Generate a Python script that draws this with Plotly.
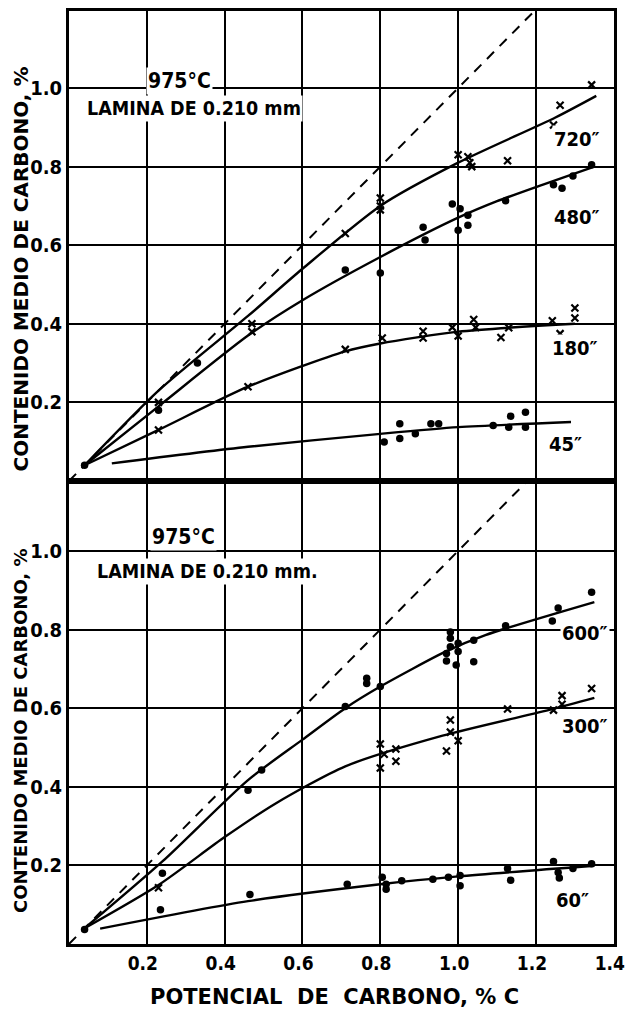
import plotly.graph_objects as go

# ---------------- upper panel: 975 °C, 0.210 mm foil ----------------
# fitted curves
c720_x = [0.04, 0.23, 0.46, 0.60, 0.80, 1.00, 1.25, 1.355]
c720_y = [0.04, 0.23, 0.42, 0.54, 0.70, 0.81, 0.925, 0.98]
c480_x = [0.04, 0.23, 0.46, 0.60, 0.80, 1.00, 1.10, 1.22, 1.35]
c480_y = [0.04, 0.19, 0.37, 0.46, 0.57, 0.67, 0.712, 0.755, 0.80]
c180_x = [0.04, 0.23, 0.46, 0.71, 0.80, 1.00, 1.30]
c180_y = [0.04, 0.13, 0.24, 0.33, 0.35, 0.38, 0.40]
c45_x = [0.11, 0.46, 0.80, 1.00, 1.29]
c45_y = [0.045, 0.087, 0.12, 0.137, 0.15]

# measured points
p720_x = [0.23, 0.47, 0.47, 0.71, 0.80, 0.80, 0.80, 1.00, 1.025, 1.035, 1.03, 1.127, 1.245, 1.262, 1.343]
p720_y = [0.20, 0.40, 0.38, 0.63, 0.72, 0.70, 0.69, 0.83, 0.825, 0.80, 0.81, 0.815, 0.906, 0.956, 1.008]
p480_x = [0.04, 0.23, 0.33, 0.71, 0.80, 0.91, 0.915, 0.985, 1.005, 1.00, 1.025, 1.025, 1.122, 1.245, 1.267, 1.295, 1.343]
p480_y = [0.04, 0.18, 0.30, 0.537, 0.529, 0.646, 0.613, 0.705, 0.693, 0.638, 0.676, 0.651, 0.713, 0.754, 0.745, 0.776, 0.805]
p180_x = [0.23, 0.46, 0.71, 0.805, 0.91, 0.91, 0.985, 1.00, 1.04, 1.045, 1.11, 1.13, 1.242, 1.262, 1.30, 1.30]
p180_y = [0.13, 0.24, 0.335, 0.364, 0.381, 0.364, 0.391, 0.369, 0.411, 0.391, 0.365, 0.39, 0.408, 0.375, 0.44, 0.415]
p45_x = [0.81, 0.85, 0.85, 0.89, 0.93, 0.95, 1.09, 1.135, 1.13, 1.173, 1.173]
p45_y = [0.099, 0.146, 0.108, 0.12, 0.146, 0.146, 0.141, 0.165, 0.137, 0.175, 0.137]

# ---------------- lower panel: 975 °C, 0.210 mm foil ----------------
c600_x = [0.04, 0.24, 0.46, 0.60, 0.71, 0.80, 0.97, 1.07, 1.35]
c600_y = [0.04, 0.21, 0.417, 0.52, 0.60, 0.655, 0.745, 0.786, 0.87]
c300_x = [0.04, 0.23, 0.40, 0.53, 0.71, 0.96, 1.24, 1.35]
c300_y = [0.04, 0.15, 0.272, 0.357, 0.452, 0.53, 0.597, 0.626]
c60_x = [0.08, 0.46, 0.80, 1.00, 1.35]
c60_y = [0.039, 0.109, 0.152, 0.172, 0.199]

p600_x = [0.04, 0.24, 0.46, 0.495, 0.71, 0.765, 0.765, 0.80, 0.97, 0.97, 0.98, 0.98, 0.98, 0.995, 1.00, 1.00, 1.04, 1.04, 1.122, 1.242, 1.257, 1.343]
p600_y = [0.037, 0.18, 0.391, 0.443, 0.604, 0.676, 0.663, 0.655, 0.72, 0.739, 0.756, 0.778, 0.794, 0.71, 0.744, 0.765, 0.718, 0.773, 0.81, 0.822, 0.855, 0.895]
p300_x = [0.23, 0.80, 0.81, 0.80, 0.84, 0.84, 0.97, 0.98, 1.00, 0.98, 1.127, 1.245, 1.267, 1.267, 1.343]
p300_y = [0.143, 0.509, 0.483, 0.448, 0.496, 0.465, 0.491, 0.539, 0.517, 0.57, 0.598, 0.595, 0.61, 0.632, 0.65]
p60_x = [0.235, 0.465, 0.715, 0.805, 0.815, 0.815, 0.855, 0.935, 0.975, 1.005, 1.005, 1.127, 1.135, 1.245, 1.257, 1.26, 1.295, 1.343]
p60_y = [0.087, 0.126, 0.152, 0.17, 0.152, 0.139, 0.161, 0.165, 0.17, 0.174, 0.148, 0.192, 0.162, 0.21, 0.182, 0.168, 0.192, 0.204]

# equilibrium line (carbon content = carbon potential)
diag = [0.0, 1.25]

# axis ticks
x_ticks = [0.2, 0.4, 0.6, 0.8, 1.0, 1.2, 1.4]
y_ticks = [0.2, 0.4, 0.6, 0.8, 1.0]

# curve labels: (text, x, y, axis)
curve_labels = [
    ("720\u2033", 1.305, 0.871, "y2"),
    ("480\u2033", 1.305, 0.673, "y2"),
    ("180\u2033", 1.30, 0.339, "y2"),
    ("45\u2033", 1.275, 0.094, "y2"),
    ("600\u2033", 1.325, 0.792, "y"),
    ("300\u2033", 1.325, 0.554, "y"),
    ("60\u2033", 1.295, 0.113, "y"),
]

NARROW = "DejaVu Sans Condensed, sans-serif"
WIDE = "DejaVu Sans, sans-serif"
INK = "black"

fig = go.Figure()


def xref_for(yaxis):
    return "x" if yaxis == "y" else "x2"


def add_curve(xs, ys, yaxis):
    fig.add_trace(go.Scatter(
        x=xs, y=ys, mode="lines", xaxis=xref_for(yaxis), yaxis=yaxis,
        line=dict(color=INK, width=2.4, shape="spline", smoothing=0.7),
        hoverinfo="skip", showlegend=False))


def add_points(xs, ys, yaxis, symbol):
    if symbol == "x":
        marker = dict(color=INK, size=7, symbol="x-thin", line=dict(color=INK, width=2.2))
    else:
        marker = dict(color=INK, size=7.5)
    fig.add_trace(go.Scatter(
        x=xs, y=ys, mode="markers", xaxis=xref_for(yaxis), yaxis=yaxis,
        marker=marker, showlegend=False))


def add_diag(yaxis):
    fig.add_trace(go.Scatter(
        x=diag, y=diag, mode="lines", xaxis=xref_for(yaxis), yaxis=yaxis,
        line=dict(color=INK, width=2, dash="10px,8px"),
        hoverinfo="skip", showlegend=False))


# upper panel
add_diag("y2")
add_curve(c720_x, c720_y, "y2")
add_curve(c480_x, c480_y, "y2")
add_curve(c180_x, c180_y, "y2")
add_curve(c45_x, c45_y, "y2")
add_points(p720_x, p720_y, "y2", "x")
add_points(p480_x, p480_y, "y2", "dot")
add_points(p180_x, p180_y, "y2", "x")
add_points(p45_x, p45_y, "y2", "dot")

# lower panel
add_diag("y")
add_curve(c600_x, c600_y, "y")
add_curve(c300_x, c300_y, "y")
add_curve(c60_x, c60_y, "y")
add_points(p600_x, p600_y, "y", "dot")
add_points(p300_x, p300_y, "y", "x")
add_points(p60_x, p60_y, "y", "dot")

axis_common = dict(
    showline=True, linecolor=INK, linewidth=3, mirror=True,
    showgrid=True, gridcolor=INK, gridwidth=1.8,
    zeroline=False, ticks="", automargin=False,
)
tick_font = dict(family=NARROW, size=20, color=INK, weight="bold")

split = 463 / 933

fig.update_layout(
    width=625, height=1010,
    margin=dict(l=69, r=11, t=11, b=66, autoexpand=False),
    paper_bgcolor="white", plot_bgcolor="white",
    font=dict(family=NARROW, color=INK, weight="bold"),
    xaxis=dict(domain=[0, 1], range=[0, 1.4005], anchor="y", tickvals=x_ticks,
               tickformat=".1f", ticklabeloverflow="allow", ticklabelshift=-4,
               tickfont=dict(tick_font, size=19), **axis_common),
    xaxis2=dict(domain=[0, 1], range=[0, 1.4005], anchor="y2", matches="x",
                tickvals=x_ticks, showticklabels=False, **axis_common),
    yaxis=dict(domain=[0, split], range=[0, 1.178], anchor="x", tickvals=y_ticks,
               tickformat=".1f", tickfont=tick_font, **axis_common),
    yaxis2=dict(domain=[split, 1], range=[0, 1.196], anchor="x2", tickvals=y_ticks,
                tickformat=".1f", tickfont=tick_font, **axis_common),
)

annotations = []
for text, x, y, ax in curve_labels:
    annotations.append(dict(
        text=text, x=x, y=y, xref=xref_for(ax), yref=ax,
        showarrow=False, font=dict(family=NARROW, size=20, color=INK, weight="bold"),
        bgcolor="white"))

# panel captions
for ax, tx, ty, lx, ly, ltxt in [
    ("y2", 0.285, 1.018, 0.32, 0.947, "LAMINA DE 0.210 mm"),
    ("y", 0.294, 1.036, 0.355, 0.947, "LAMINA DE 0.210 mm."),
]:
    annotations.append(dict(
        text="975°C", x=tx, y=ty, xref=xref_for(ax), yref=ax,
        showarrow=False, font=dict(family=NARROW, size=21, color=INK, weight="bold"),
        bgcolor="white"))
    annotations.append(dict(
        text=ltxt, x=lx, y=ly, xref=xref_for(ax), yref=ax,
        showarrow=False, font=dict(family=NARROW, size=19.5, color=INK, weight="bold"),
        bgcolor="white"))

# y-axis titles, one per panel
for ax, ypos, size in [("y2", 0.45, 20), ("y", 0.46, 18)]:
    annotations.append(dict(
        text="CONTENIDO MEDIO DE CARBONO, %", textangle=-90,
        x=0, xref="paper", xshift=-49, xanchor="center", y=ypos, yref=f"{ax} domain",
        yanchor="middle", showarrow=False,
        font=dict(family=WIDE, size=size, color=INK, weight="bold")))

# x-axis title
annotations.append(dict(
    text="POTENCIAL  DE  CARBONO, % C", x=(334 - 69) / 545, xref="paper",
    y=0, yref="paper", showarrow=False, yshift=-53, yanchor="middle",
    font=dict(family=WIDE, size=21, color=INK, weight="bold")))

fig.update_layout(annotations=annotations)

fig.write_html("out.html")
